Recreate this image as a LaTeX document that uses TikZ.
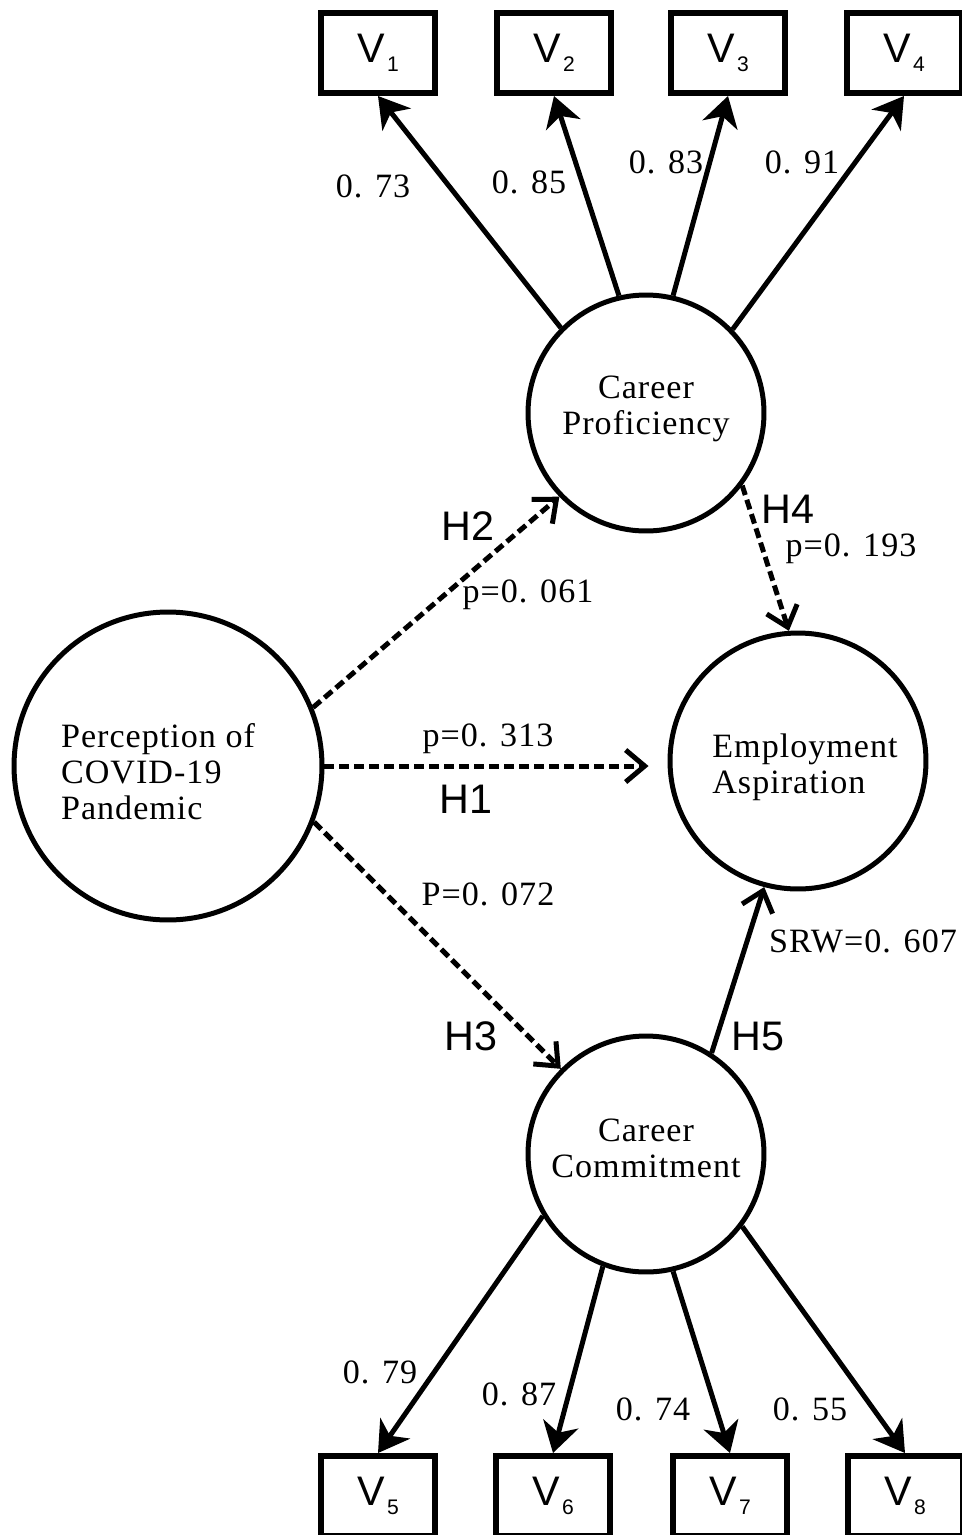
\documentclass[tikz,border=0pt]{standalone}
\usepackage{fontspec}
\setmainfont{Liberation Serif}[LetterSpace=3]
\newfontfamily\hsans{Liberation Sans}
\usetikzlibrary{arrows.meta}
\tikzset{
  latent/.style={circle, draw, line width=0.1cm, inner sep=0pt},
  obs/.style={draw, line width=0.12cm, minimum width=2.3cm, minimum height=1.6cm, inner sep=0pt,
    font=\hsans\fontsize{23.5}{26}\selectfont},
  serif/.style={font=\fontsize{19.4}{20.5}\selectfont, inner sep=0pt},
  hlab/.style={font=\hsans\fontsize{23.5}{26}\selectfont, inner sep=0pt, anchor=base},
  num/.style={serif, anchor=base},
  load/.style={line width=0.1cm, -{Stealth[length=0.6cm, width=0.72cm, inset=0.18cm]}},
  struct/.style={line width=0.1cm, -{Straight Barb[length=0.38cm, width=0.64cm]}},
  dstruct/.style={struct, dash pattern=on 0.2cm off 0.1cm},
}
\newcommand{\vsub}[1]{V\kern1.5pt\raisebox{-0.17cm}{\fontsize{12}{14}\selectfont #1}}
\begin{document}
\begin{tikzpicture}[x=0.02cm, y=-0.02cm]
\useasboundingbox (0,0) rectangle (962,1535);
% observed variables
\node[obs] (v1) at (378,53) {\vsub{1}};
\node[obs] (v2) at (554,53) {\vsub{2}};
\node[obs] (v3) at (728,53) {\vsub{3}};
\node[obs] (v4) at (904,53) {\vsub{4}};
\node[obs] (v5) at (378,1496) {\vsub{5}};
\node[obs] (v6) at (553,1496) {\vsub{6}};
\node[obs] (v7) at (730,1496) {\vsub{7}};
\node[obs] (v8) at (905,1496) {\vsub{8}};
% latent variables
\node[latent, minimum size=6.16cm,
  label={[serif, align=left, xshift=-0.2cm, yshift=-0.12cm]center:Perception of\\COVID-19\\Pandemic}] (perc) at (168,766) {};
\node[latent, minimum size=5.12cm,
  label={[serif, align=left, xshift=0.14cm, yshift=-0.12cm]center:Employment\\Aspiration}] (ea) at (798,761) {};
\node[latent, minimum size=4.72cm,
  label={[serif, align=center, yshift=0.09cm]center:Career\\Proficiency}] (cp) at (646,413) {};
\node[latent, minimum size=4.72cm,
  label={[serif, align=center, yshift=0.12cm]center:Career\\Commitment}] (cc) at (646,1154) {};
% loadings
\draw[load] (cp.135) -- (v1.south);
\draw[load] (cp.103) -- (v2.south);
\draw[load] (cp.77) -- (v3.south);
\draw[load] (cp.44) -- (v4.south);
\draw[load] (cc.211) -- (v5.north);
\draw[load] (cc.249) -- (v6.north);
\draw[load] (cc.283) -- (v7.north);
\draw[load] (cc.323) -- (v8.north);
% structural paths
\draw[dstruct, shorten >=0.38cm] (perc.east) -- (perc.east -| ea.west);
\draw[dstruct] (perc.22) -- (cp.224);
\draw[dstruct] (perc.-21) -- (cc.135);
\draw[dstruct] (cp.-37) -- (ea.94);
\draw[struct] (cc.57) -- (ea.255);
% loading labels
\node[num] (l1) at (373,197) {0. 73};
\node[num] (l2) at (529,193) {0. 85};
\node[num] (l3) at (666,173) {0. 83};
\node[num] (l4) at (802,173) {0. 91};
\node[num] (l5) at (380,1383) {0. 79};
\node[num] (l6) at (519,1405) {0. 87};
\node[num] (l7) at (653,1420) {0. 74};
\node[num] (l8) at (810,1420) {0. 55};
% path labels
\node[num] (p2) at (528,602) {p=0. 061};
\node[num] (p4) at (851,556) {p=0. 193};
\node[num] (p1) at (488,746) {p=0. 313};
\node[num] (p3) at (488,905) {P=0. 072};
\node[num] (p5) at (863,952) {SRW=0. 607};
\node[hlab] (h2) at (468,540) {H2};
\node[hlab] (h4) at (788,523) {H4};
\node[hlab] (h1) at (466,813) {H1};
\node[hlab] (h3) at (471,1050) {H3};
\node[hlab] (h5) at (758,1050) {H5};
\end{tikzpicture}
\end{document}
